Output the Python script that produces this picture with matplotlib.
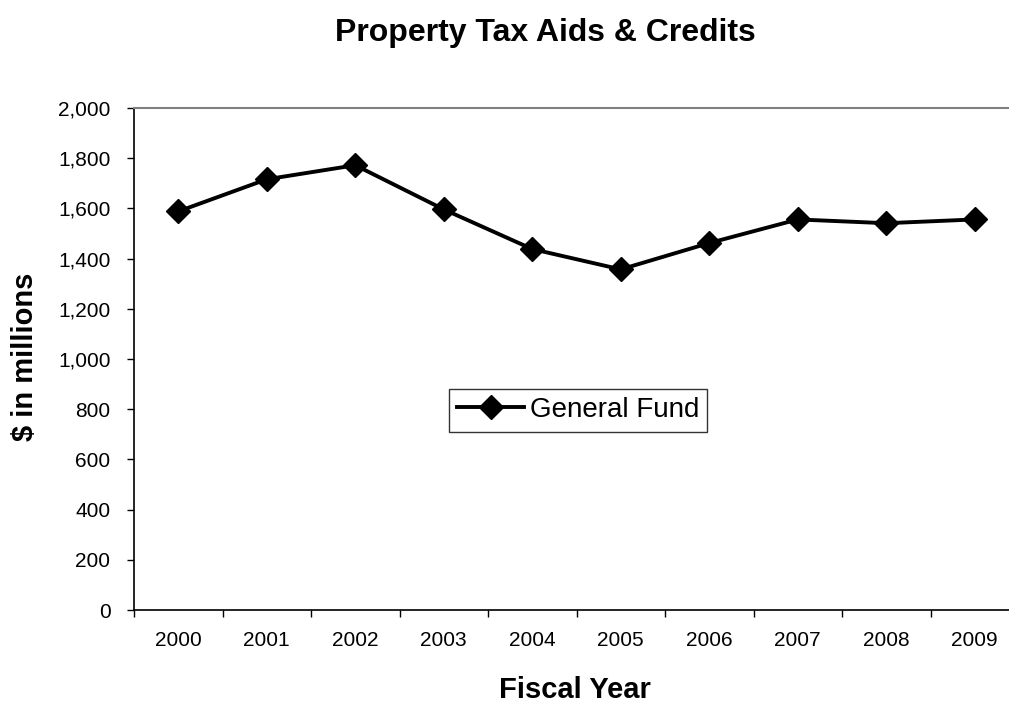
import matplotlib.pyplot as plt
from matplotlib.ticker import FuncFormatter, MultipleLocator

plt.rcParams['font.family'] = ['Liberation Sans', 'DejaVu Sans']

years = ['2000', '2001', '2002', '2003', '2004', '2005', '2006', '2007', '2008', '2009']
general_fund = [1588, 1716, 1772, 1596, 1438, 1357, 1462, 1556, 1541, 1556]

fig = plt.figure(figsize=(10.09, 7.04), dpi=100)
# plot area runs a little past the right edge of the figure
ax = fig.add_axes([134 / 1009, 1 - 610 / 704, 885 / 1009, 502 / 704])

x = list(range(len(years)))
ax.plot(x, general_fund, color='black', linewidth=2.8, marker='D',
        markersize=12, label='General Fund')

ax.set_xlim(-0.5, len(years) - 0.5)
ax.set_ylim(0, 2000)
ax.yaxis.set_major_locator(MultipleLocator(200))
ax.yaxis.set_major_formatter(FuncFormatter(lambda v, p: f'{int(v):,}'))

# category ticks sit between the years
ax.set_xticks([i + 0.5 for i in range(-1, len(years))], minor=False)
ax.set_xticklabels([])
ax.set_xticks(x, minor=True)
ax.set_xticklabels(years, minor=True)
ax.tick_params(axis='x', which='major', direction='out', length=5, width=1)
ax.tick_params(axis='x', which='minor', length=0, pad=15, labelsize=15)
ax.tick_params(axis='y', direction='out', length=5, width=1, labelsize=15, pad=12)

for side in ['top', 'right']:
    ax.spines[side].set_color('#808080')
    ax.spines[side].set_linewidth(1.5)
ax.spines['left'].set_linewidth(1.2)
ax.spines['bottom'].set_linewidth(1.2)

fig.text(545 / 1009, 1 - 33 / 704, 'Property Tax Aids & Credits', ha='center',
         va='center', fontsize=23, fontweight='bold')
fig.text(575 / 1009, 1 - 690 / 704, 'Fiscal Year', ha='center', va='center',
         fontsize=21, fontweight='bold')
fig.text(25 / 1009, 1 - 357 / 704, '$ in millions', ha='center', va='center',
         rotation=90, fontsize=21, fontweight='bold')

leg = ax.legend(loc='center', bbox_to_anchor=(0.502, 0.398), fontsize=20,
                frameon=True, fancybox=False, edgecolor='black',
                handlelength=2.4, borderpad=0.3, handletextpad=0.2,
                borderaxespad=0)
leg.get_frame().set_linewidth(1.0)

fig.savefig('out.png', dpi=100)
